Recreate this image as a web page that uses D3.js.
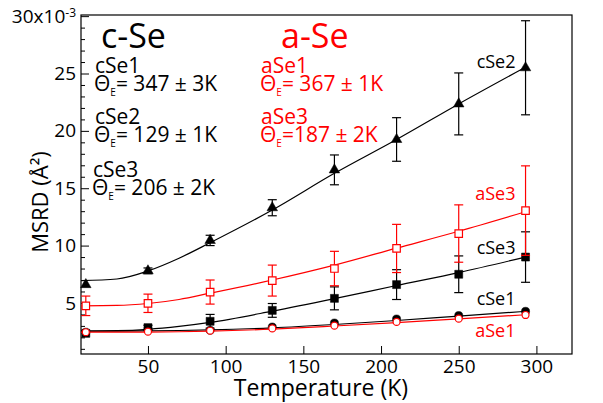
<!DOCTYPE html>
<html>
<head>
<meta charset="utf-8">
<script src="https://cdn.jsdelivr.net/npm/d3@7/dist/d3.min.js"></script>
<style>
  body { margin: 0; background: #fff; }
  text { font-family: "Open Sans", sans-serif; }
</style>
</head>
<body>
<div id="chart"></div>
<script>
// measured temperatures (K)
var temps = [10, 50, 90, 130, 170, 210, 250, 293];

// MSRD values (x10^-3 A^2)
var cSe1 = [2.45, 2.72, 2.62, 2.9, 3.25, 3.6, 3.9, 4.27];
var cSe2 = [6.6, 7.8, 10.45, 13.3, 16.6, 19.25, 22.35, 25.5];
var cSe3 = [2.35, 2.85, 3.4, 4.35, 5.4, 6.6, 7.5, 9.0];
var aSe1 = [2.45, 2.5, 2.58, 2.78, 3.02, 3.35, 3.63, 3.95];
var aSe3 = [4.75, 4.97, 5.95, 6.95, 8.0, 9.75, 11.05, 13.05];

var cSe2Err = [0, 0.25, 0.45, 0.7, 1.3, 1.9, 2.7, 4.1];
var cSe3Err = [0, 0.2, 0.6, 0.6, 1.0, 1.3, 1.6, 2.2];
var aSe3Err = [0.85, 0.8, 1.05, 1.35, 1.5, 2.1, 2.5, 3.9];

// Einstein fit curves
var fitTemps = [7, 30, 50, 70, 90, 130, 170, 210, 250, 293];
var cSe1Fit = [2.55, 2.55, 2.57, 2.6, 2.65, 2.83, 3.12, 3.47, 3.86, 4.27];
var cSe2Fit = [6.95, 7.09, 7.79, 8.9, 10.25, 13.1, 16.3, 19.25, 22.35, 25.55];
var cSe3Fit = [2.55, 2.58, 2.7, 2.95, 3.3, 4.28, 5.37, 6.52, 7.65, 9.0];
var aSe1Fit = [2.45, 2.45, 2.46, 2.49, 2.54, 2.72, 2.99, 3.29, 3.62, 3.97];
var aSe3Fit = [4.75, 4.78, 4.95, 5.3, 5.85, 7.0, 8.3, 9.78, 11.25, 12.95];

var xTicks = [50, 100, 150, 200, 250, 300];
var yTicks = [5, 10, 15, 20, 25, 30];
var yMinor = d3.range(1, 30).filter(function(d) { return d % 5 !== 0; });

var margin = { top: 15, right: 31, bottom: 49, left: 81 },
    width = 603 - margin.left - margin.right,
    height = 403 - margin.top - margin.bottom;

var svg = d3.select("#chart").append("svg")
    .attr("width", width + margin.left + margin.right)
    .attr("height", height + margin.top + margin.bottom)
  .append("g")
    .attr("transform", "translate(" + margin.left + "," + margin.top + ")");

var x = d3.scaleLinear().domain([6.9, 322.9]).range([0, width]);
var y = d3.scaleLinear().domain([0.55, 30.1]).range([height, 0]);

// axes
svg.append("g")
    .attr("transform", "translate(0," + height + ")")
    .call(d3.axisBottom(x).tickValues(xTicks).tickSize(-8).tickPadding(5));

var yAxis = svg.append("g")
    .call(d3.axisLeft(y).tickValues(yTicks).tickSize(-8).tickPadding(5)
      .tickFormat(function(d) { return d === 30 ? "" : d; }));

svg.append("g")
    .call(d3.axisLeft(y).tickValues(yMinor).tickSize(-4).tickFormat(""));

svg.selectAll(".domain").remove();
svg.selectAll(".tick line").attr("stroke", "#000").attr("stroke-width", 1);
svg.selectAll(".tick text")
    .attr("fill", "#000")
    .style("font-family", "'Open Sans', sans-serif")
    .style("font-size", "19px");

var topLabel = yAxis.selectAll(".tick").filter(function(d) { return d === 30; }).select("text");
topLabel.append("tspan").text("30x10");
topLabel.append("tspan").attr("dy", "-0.45em").style("font-size", "12px").text("-3");

svg.append("rect")
    .attr("width", width)
    .attr("height", height)
    .attr("fill", "none")
    .attr("stroke", "#000")
    .attr("stroke-width", 1.2);

// axis titles
svg.append("text")
    .attr("x", 321 - margin.left)
    .attr("y", height + 42)
    .attr("text-anchor", "middle")
    .style("font-size", "23px")
    .text("Temperature (K)");

svg.append("text")
    .attr("transform", "translate(" + (48 - margin.left) + "," + (202 - margin.top) + ") rotate(-90)")
    .attr("text-anchor", "middle")
    .style("font-size", "22px")
    .text("MSRD (Å²)");

var series = [
  { name: "cSe2", values: cSe2, err: cSe2Err, fit: cSe2Fit, color: "#000", symbol: d3.symbolTriangle, size: 48, open: false },
  { name: "cSe3", values: cSe3, err: cSe3Err, fit: cSe3Fit, color: "#000", symbol: d3.symbolSquare, size: 64, open: false },
  { name: "cSe1", values: cSe1, err: null, fit: cSe1Fit, color: "#000", symbol: d3.symbolCircle, size: 52, open: false },
  { name: "aSe3", values: aSe3, err: aSe3Err, fit: aSe3Fit, color: "#ff0000", symbol: d3.symbolSquare, size: 56, open: true },
  { name: "aSe1", values: aSe1, err: null, fit: aSe1Fit, color: "#ff0000", symbol: d3.symbolCircle, size: 38, open: true }
];

var line = d3.line()
    .x(function(d) { return x(d[0]); })
    .y(function(d) { return y(d[1]); })
    .curve(d3.curveMonotoneX);

series.forEach(function(s) {
  var g = svg.append("g");

  g.append("path")
      .datum(d3.zip(fitTemps, s.fit))
      .attr("d", line)
      .attr("fill", "none")
      .attr("stroke", s.color)
      .attr("stroke-width", 1.2);

  var pts = temps.map(function(t, i) {
    return { t: t, v: s.values[i], e: s.err ? s.err[i] : 0 };
  });

  var bars = g.selectAll(".err")
      .data(pts.filter(function(d) { return d.e > 0; }))
    .enter().append("g")
      .attr("stroke", s.color)
      .attr("stroke-width", 1.2);

  bars.append("line")
      .attr("x1", function(d) { return x(d.t); })
      .attr("x2", function(d) { return x(d.t); })
      .attr("y1", function(d) { return y(d.v - d.e); })
      .attr("y2", function(d) { return y(d.v + d.e); });
  bars.append("line")
      .attr("x1", function(d) { return x(d.t) - 4.5; })
      .attr("x2", function(d) { return x(d.t) + 4.5; })
      .attr("y1", function(d) { return y(d.v + d.e); })
      .attr("y2", function(d) { return y(d.v + d.e); });
  bars.append("line")
      .attr("x1", function(d) { return x(d.t) - 4.5; })
      .attr("x2", function(d) { return x(d.t) + 4.5; })
      .attr("y1", function(d) { return y(d.v - d.e); })
      .attr("y2", function(d) { return y(d.v - d.e); });

  g.selectAll(".pt")
      .data(pts)
    .enter().append("path")
      .attr("transform", function(d) { return "translate(" + x(d.t) + "," + y(d.v) + ")"; })
      .attr("d", d3.symbol().type(s.symbol).size(s.size))
      .attr("fill", s.open ? "#fff" : s.color)
      .attr("stroke", s.color)
      .attr("stroke-width", s.open ? 1.2 : 0.5);
});

// curve labels, just left of the last points (page y)
var curveLabels = [
  { text: "cSe2", y: 68, color: "#000" },
  { text: "aSe3", y: 200, color: "#ff0000" },
  { text: "cSe3", y: 254, color: "#000" },
  { text: "cSe1", y: 305, color: "#000" },
  { text: "aSe1", y: 337, color: "#ff0000" }
];

svg.selectAll(".clabel")
    .data(curveLabels)
  .enter().append("text")
    .attr("x", x(temps[temps.length - 1]) - 10)
    .attr("y", function(d) { return d.y - margin.top; })
    .attr("text-anchor", "end")
    .attr("fill", function(d) { return d.color; })
    .style("font-size", "18px")
    .text(function(d) { return d.text; });

// annotations
svg.append("text").attr("x", 101 - margin.left).attr("y", 48 - margin.top)
    .style("font-size", "34px").attr("fill", "#000").text("c-Se");
svg.append("text").attr("x", 281 - margin.left).attr("y", 48 - margin.top)
    .style("font-size", "34px").attr("fill", "#ff0000").text("a-Se");

var notes = [
  { name: "cSe1", theta: "= 347 ± 3K", x: 95, y: 73, color: "#000" },
  { name: "cSe2", theta: "= 129 ± 1K", x: 95, y: 124, color: "#000" },
  { name: "cSe3", theta: "= 206 ± 2K", x: 93, y: 177, color: "#000" },
  { name: "aSe1", theta: "= 367 ± 1K", x: 261, y: 73, color: "#ff0000" },
  { name: "aSe3", theta: "=187 ± 2K", x: 261, y: 124, color: "#ff0000" }
];

notes.forEach(function(n) {
  var t = svg.append("text")
      .attr("x", n.x - margin.left)
      .attr("y", n.y - margin.top)
      .attr("fill", n.color)
      .style("font-size", "21px");
  t.append("tspan").text(n.name);
  t.append("tspan").attr("x", n.x - 1 - margin.left).attr("dy", 18).text("Θ");
  t.append("tspan").attr("dy", 5).style("font-size", "10px").text("E");
  t.append("tspan").attr("dy", -5).text(n.theta);
});
</script>
</body>
</html>
